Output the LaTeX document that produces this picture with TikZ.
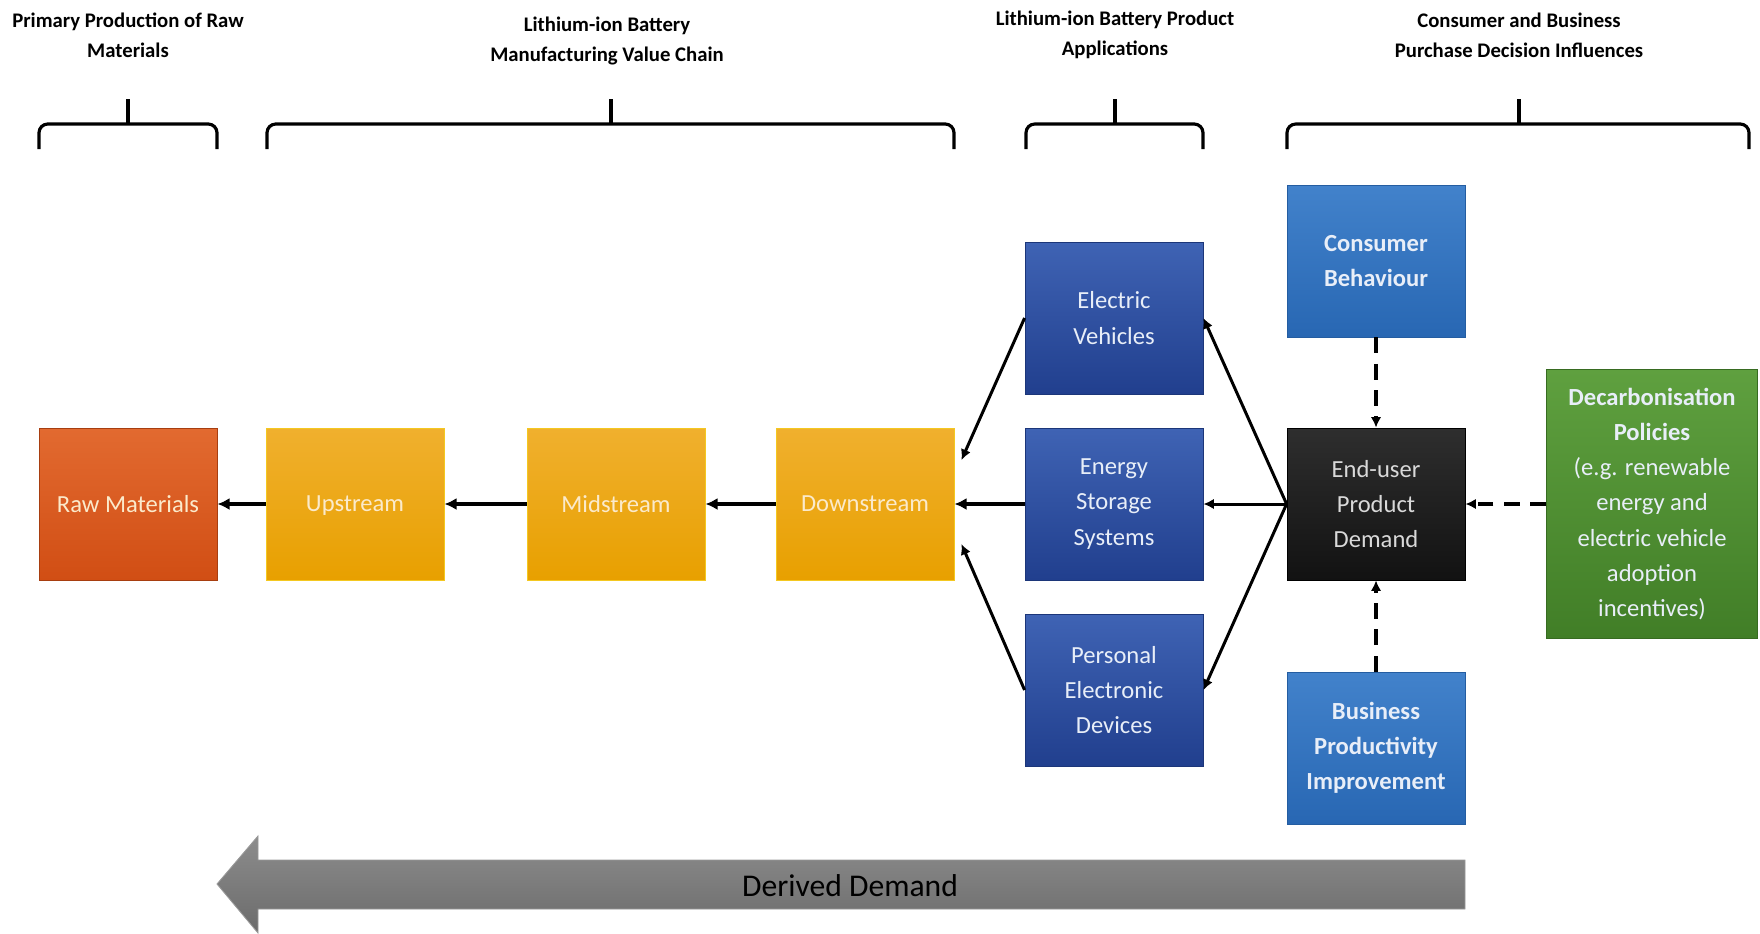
\documentclass[tikz,border=0pt]{standalone}
\usepackage{fontspec}
\setmainfont{Carlito}
\usetikzlibrary{arrows.meta,positioning}

\definecolor{rawtop}{HTML}{E26A30}
\definecolor{rawbot}{HTML}{D14E14}
\definecolor{ambtop}{HTML}{F0B02E}
\definecolor{ambbot}{HTML}{E8A000}
\definecolor{apptop}{HTML}{3F63B4}
\definecolor{appbot}{HTML}{213F8E}
\definecolor{inftop}{HTML}{4282CB}
\definecolor{infbot}{HTML}{2867B3}
\definecolor{endtop}{HTML}{2E2E2E}
\definecolor{endbot}{HTML}{121212}
\definecolor{poltop}{HTML}{5FA03F}
\definecolor{polbot}{HTML}{417E27}
\definecolor{palecream}{HTML}{FBEACB}
\definecolor{paleblue}{HTML}{E8EEF8}

\begin{document}
\begin{tikzpicture}[x=0.02cm,y=-0.02cm,
    box/.style={minimum width=3.56cm,minimum height=3.04cm,align=center,
        inner sep=2pt,line width=0.5pt,font=\fontsize{14}{20}\selectfont},
    rawbox/.style={box,text depth=0pt,top color=rawtop,bottom color=rawbot,draw=rawbot!80!black,text=palecream},
    chainbox/.style={box,text depth=0pt,top color=ambtop,bottom color=ambbot,draw=ambtop!70!yellow,text=palecream},
    appbox/.style={box,top color=apptop,bottom color=appbot,draw=appbot!85!black,text=paleblue},
    infbox/.style={box,top color=inftop,bottom color=infbot,draw=infbot!90!black,text=paleblue,
        font=\fontsize{14}{20}\selectfont\bfseries},
    title/.style={align=center,font=\fontsize{11.8}{17}\selectfont\bfseries},
    brace/.style={line width=1.8pt,rounded corners=5pt},
    flow/.style={line width=2.2pt,-{Latex[length=7pt,width=7pt]}},
    link/.style={line width=1.7pt,-{Latex[length=6pt,width=6pt]}},
    driver/.style={line width=2pt,dash pattern=on 9pt off 6pt,-{Latex[length=6pt,width=6pt]}}
]
\useasboundingbox (0,0) rectangle (1760,933);

% headings and braces
\node[title] (t1) at (128,35) {Primary Production of Raw\\Materials};
\node[title] (t2) at (607,41) {Lithium-ion Battery\\Manufacturing Value Chain};
\node[title] (t3) at (1115,35) {Lithium-ion Battery Product\\Applications};
\node[title] (t4) at (1519,35) {Consumer and Business\\Purchase Decision Influences};
\foreach \a/\m/\b in {39/128/217, 267/611/954, 1026/1115/1203, 1287/1519/1749} {
    \draw[brace] (\a,149) -- (\a,124) -- (\b,124) -- (\b,149);
    \draw[line width=1.8pt] (\m,124) -- (\m,99);
}

% value chain
\node[rawbox] (raw) at (128,504) {Raw Materials};
\node[chainbox] (up) at (355,504) {Upstream};
\node[chainbox] (mid) at (616,504) {Midstream};
\node[chainbox] (down) at (865,504) {Downstream};

% applications
\node[appbox] (ev) at (1114,318) {Electric\\Vehicles};
\node[appbox] (ess) at (1114,504) {Energy\\Storage\\Systems};
\node[appbox] (ped) at (1114,690) {Personal\\Electronic\\Devices};

% demand and influences
\node[box,top color=endtop,bottom color=endbot,draw=black,text=black!15] (user) at (1376,504) {End-user\\Product\\Demand};
\node[infbox] (cons) at (1376,261) {Consumer\\Behaviour};
\node[infbox] (bus) at (1376,748) {Business\\Productivity\\Improvement};
\node[box,minimum width=4.22cm,minimum height=5.38cm,top color=poltop,bottom color=polbot,
    draw=polbot!85!black,text=paleblue] (pol) at (1652,504)
    {\bfseries Decarbonisation\\\bfseries Policies\\(e.g. renewable\\energy and\\electric vehicle\\adoption\\incentives)};

% connectors
\draw[flow] (up) -- (raw);
\draw[flow] (mid) -- (up);
\draw[flow] (down) -- (mid);
\draw[flow] (ess) -- (down);
\draw[link] (ev.west) -- ([xshift=4pt,yshift=0.88cm]down.east);
\draw[link] (ped.west) -- ([xshift=4pt,yshift=-0.8cm]down.east);
\draw[link] (user.west) -- (ev.east);
\draw[link] (user.west) -- (ess.east);
\draw[link] (user.west) -- (ped.east);
\draw[driver] (cons) -- (user);
\draw[driver] (bus) -- (user);
\draw[driver] (pol) -- (user);

% derived demand arrow
\shade[top color=black!45,bottom color=black!58,draw=black!40,line width=0.5pt]
    (217,884) -- (258,836) -- (258,860) -- (1465,860) -- (1465,909) -- (258,909) -- (258,933) -- cycle;
\node[font=\fontsize{18}{22}\selectfont,text=black] (derived) at (850,886) {Derived Demand};
\end{tikzpicture}
\end{document}
